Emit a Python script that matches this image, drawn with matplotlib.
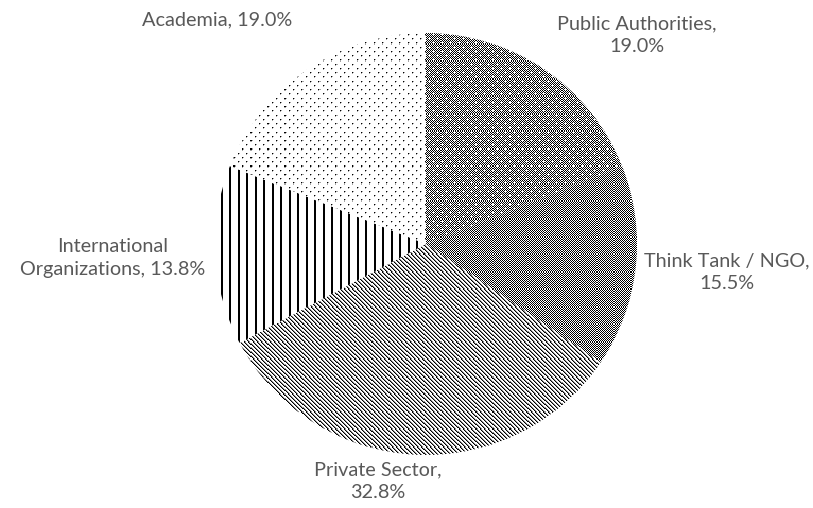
import numpy as np
import matplotlib.pyplot as plt

# share of respondents by stakeholder group
categories = ['Public Authorities', 'Think Tank / NGO', 'Private Sector',
              'International Organizations', 'Academia']
shares = [19.0, 15.5, 32.8, 13.8, 19.0]
label_text = ['Public Authorities,\n19.0%', 'Think Tank / NGO,\n15.5%',
              'Private Sector,\n32.8%', 'International\nOrganizations, 13.8%',
              'Academia, 19.0%']

W, H = 813, 508
scale = 1.0625  # 8px tiles drawn slightly enlarged

# 8x8 fill tiles, 1 = black
ii, jj = np.indices((8, 8))
checker = ((ii + jj) % 2 == 0).astype(float)
checker_dots = checker.copy()
checker_dots[0, 0] = 0
checker_dots[4, 4] = 0
diag = ((jj - ii) % 4 == 0).astype(float)
diag[(jj - ii) % 4 == 1] = 0.45  # soft edge on the diagonal lines
vlines = (jj % 8 < 2).astype(float)
dots = np.zeros((8, 8))
for r, c in [(0, 0), (4, 4)]:
    dots[r, c] = 1
    dots[r, c + 1] = 0.35
    dots[r + 1, c] = 0.35
tiles = [checker_dots, checker, diag, vlines, dots]


def fill_image(tile):
    ny = int(np.ceil(H / scale))
    nx = int(np.ceil(W / scale))
    full = np.tile(tile, (ny // 8 + 1, nx // 8 + 1))
    return 1 - full[:ny, :nx]


fig = plt.figure(figsize=(W / 100, H / 100), dpi=100)
ax = fig.add_axes([0, 0, 1, 1])

wedges, _ = ax.pie(shares, startangle=90, counterclock=False,
                   radius=211, center=(426, H - 244),
                   colors=['white'] * len(shares),
                   wedgeprops=dict(linewidth=0))

for w, t in zip(wedges, tiles):
    im = ax.imshow(fill_image(t), cmap='gray', vmin=0, vmax=1,
                   extent=(0, W, 0, H), origin='upper',
                   interpolation='nearest', zorder=2)
    im.set_clip_path(w)

# label positions (pixel coords from top-left)
label_pos = [(637, 35), (727, 272), (378, 481), (113, 258), (217, 20)]
for txt, (x, y) in zip(label_text, label_pos):
    ax.text(x, H - y, txt, ha='center', va='center', multialignment='center',
            fontsize=14.3, family='Lato', color='#595959', linespacing=1.4,
            zorder=3)

ax.set_xlim(0, W)
ax.set_ylim(0, H)
ax.set_aspect('equal')
ax.axis('off')

fig.savefig('out.png', dpi=100)
